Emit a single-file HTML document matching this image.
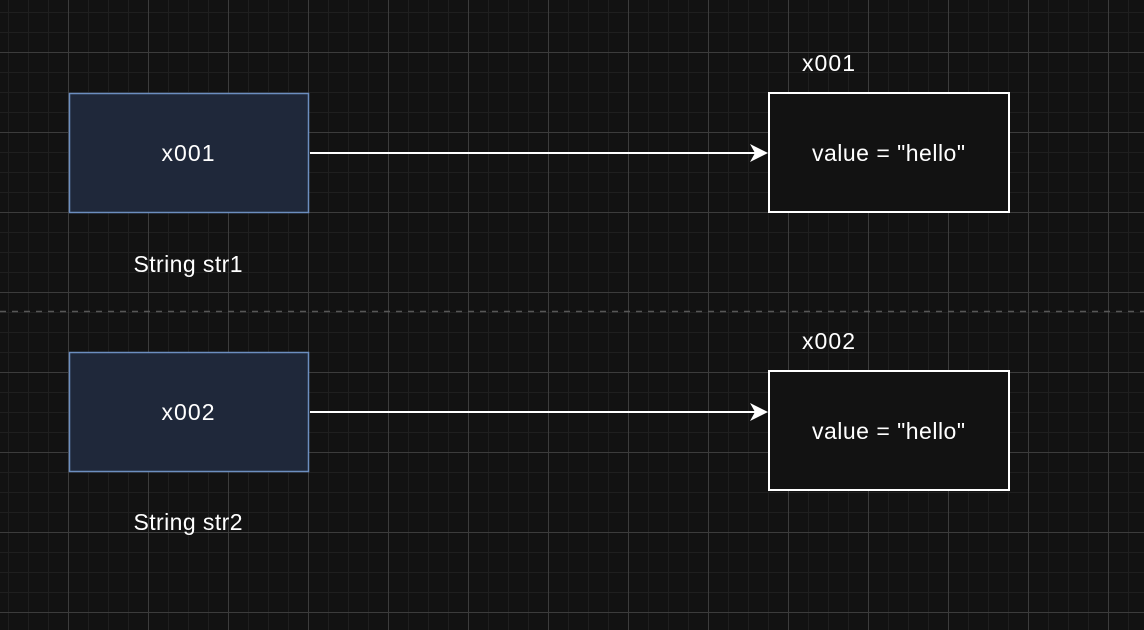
<!DOCTYPE html>
<html><head><meta charset="utf-8"><style>
html,body{margin:0;padding:0;background:#121212;}
svg{display:block;}
text{font-family:"Liberation Sans",Arial,sans-serif;font-size:23px;fill:#fff;}
</style></head><body>
<svg width="1144" height="630" xmlns="http://www.w3.org/2000/svg">
<defs>
<pattern id="minor" x="8" y="12" width="20" height="20" patternUnits="userSpaceOnUse">
<path d="M0.5 0V20M0 0.5H20" stroke="#1f1f1f" stroke-width="1" fill="none"/>
</pattern>
<pattern id="major" x="68" y="52" width="80" height="80" patternUnits="userSpaceOnUse">
<path d="M0.5 0V80M0 0.5H80" stroke="#3c3c3c" stroke-width="1" fill="none"/>
</pattern>
</defs>
<rect width="1144" height="630" fill="#121212"/>
<rect width="1144" height="630" fill="url(#minor)"/>
<rect width="1144" height="630" fill="url(#major)"/>
<line x1="0" y1="311.5" x2="1144" y2="311.5" stroke="#575757" stroke-width="1.5" stroke-dasharray="6 6"/>

<rect x="69.5" y="93.5" width="239" height="119" fill="#1f283a" stroke="#6c8ebf" stroke-width="1.5"/>
<text x="188" y="161" text-anchor="middle" textLength="53">x001</text>
<text x="188" y="272" text-anchor="middle" textLength="109">String str1</text>
<rect x="69.5" y="352.5" width="239" height="119" fill="#1f283a" stroke="#6c8ebf" stroke-width="1.5"/>
<text x="188" y="420" text-anchor="middle" textLength="53">x002</text>
<text x="188" y="530" text-anchor="middle" textLength="109">String str2</text>

<rect x="769" y="93" width="240" height="119" fill="#121212" stroke="#fff" stroke-width="2"/>
<text x="812" y="161" textLength="153">value = "hello"</text>
<text x="802" y="71" textLength="53">x001</text>
<rect x="769" y="371" width="240" height="119" fill="#121212" stroke="#fff" stroke-width="2"/>
<text x="812" y="439" textLength="153">value = "hello"</text>
<text x="802" y="349" textLength="53">x002</text>

<line x1="310" y1="153" x2="756" y2="153" stroke="#fff" stroke-width="2"/>
<path d="M768 153 L750 144 L755 153 L750 162 Z" fill="#fff"/>
<line x1="310" y1="412" x2="756" y2="412" stroke="#fff" stroke-width="2"/>
<path d="M768 412 L750 403 L755 412 L750 421 Z" fill="#fff"/>
</svg>
</body></html>
